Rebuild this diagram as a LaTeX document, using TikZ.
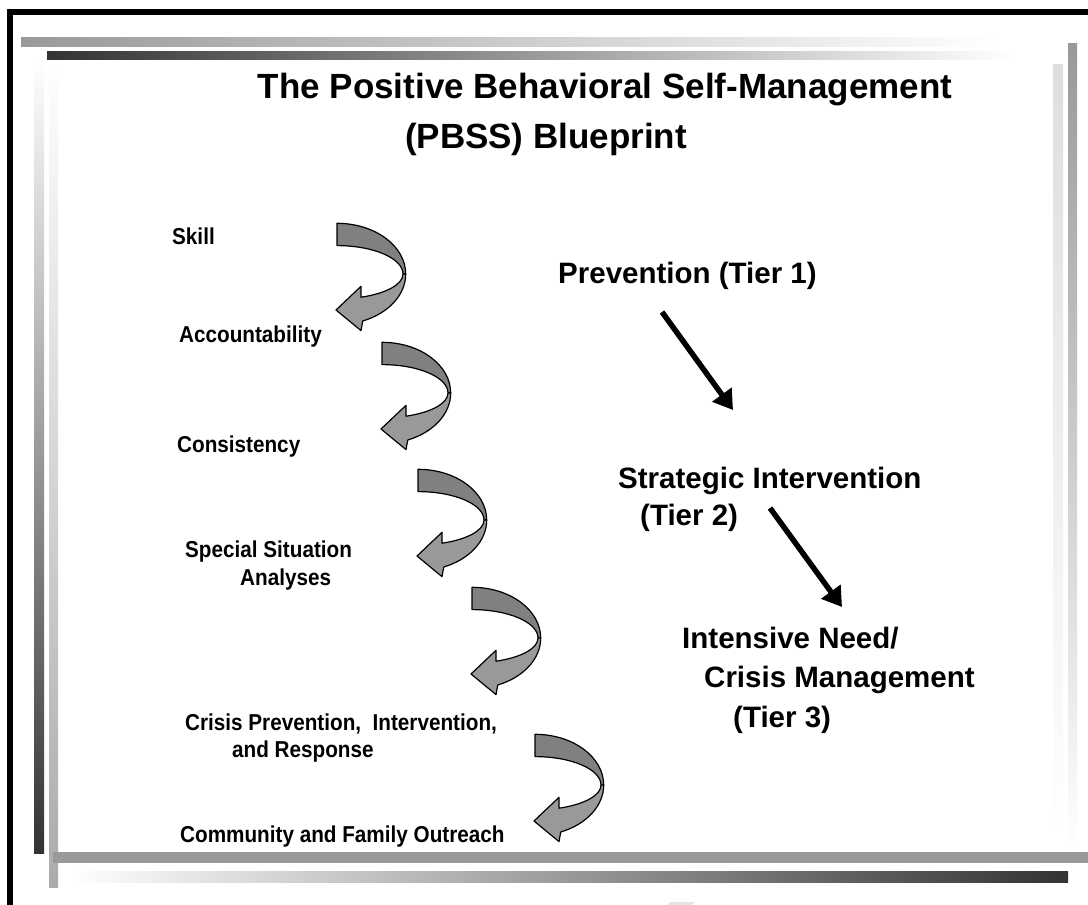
\documentclass[tikz,border=0pt]{standalone}
\usepackage{fontspec}
\setmainfont{Liberation Sans}
\usetikzlibrary{arrows.meta, positioning, calc}

\begin{document}
\begin{tikzpicture}[
    x=1pt, y=1pt,
    titletext/.style={font=\fontsize{35}{42}\selectfont\bfseries, anchor=base, inner sep=0pt},
    steplabel/.style={font=\fontsize{23}{28}\selectfont\bfseries, anchor=base west, inner sep=0pt, xscale=0.9},
    tierlabel/.style={font=\fontsize{29.5}{39}\selectfont\bfseries, anchor=base west, inner sep=0pt},
    tierarrow/.style={-{Triangle[length=19pt, width=23pt]}, line width=5.5pt},
    bandline/.style={draw=black, line width=1.2pt, line join=round},
    bendarrow/.pic={
        % upper band
        \filldraw[bandline, fill=black!50] (0,50.7) arc[start angle=90, end angle=0, x radius=68.7, y radius=50.7]
            -- (66,0) arc[start angle=0, end angle=90, x radius=66, y radius=28.4] -- cycle;
        % lower band with head
        \filldraw[bandline, fill=black!40] (68.7,0) arc[start angle=0, end angle=-68, x radius=68.7, y radius=50.7]
            -- (24,-56.6) -- (-1,-36) -- (24,-12.3) -- (24,-23.2)
            arc[start angle=-68.7, end angle=0, x radius=66, y radius=24.9] -- cycle;
    }
]

\useasboundingbox (0,0) rectangle (1088,-905);
\fill[white] (0,0) rectangle (1088,-905);

% Frame
\fill[black] (7,-9) rectangle (1088,-15);
\fill[black] (7,-9) rectangle (13,-905);

% Bars
\shade[left color=black!40, right color=white] (21,-37) rectangle (997,-46);
\shade[left color=black!80, right color=white] (47,-51) rectangle (1013,-59);
\shade[top color=black!40, bottom color=white] (1068,-43) rectangle (1077,-850);
\shade[top color=black!13, bottom color=white] (1053,-64) rectangle (1063,-840);
\shade[top color=white, bottom color=black!80] (34,-60) rectangle (44,-853);
\shade[top color=white, bottom color=black!33] (49,-60) rectangle (58,-887);
\fill[black!40] (53,-852) rectangle (1088,-863);
\shade[left color=white, right color=black!80] (70,-871) rectangle (1068,-882);
\fill[black!10] (670,-902) -- (695,-902) -- (692,-905) -- (667,-905) -- cycle;

% Title
\node[titletext] (title) at (605,-98) {The Positive Behavioral Self-Management};
\node[titletext] (subtitle) at (546,-148) {(PBSS) Blueprint};

% Steps
\node[steplabel] (skill) at (172,-244) {Skill};
\node[steplabel] (account) at (179,-342) {Accountability};
\node[steplabel] (consist) at (177,-452) {Consistency};
\node[steplabel] (special) at (185,-557) {Special Situation};
\node[steplabel] (analyses) at (240,-585) {Analyses};
\node[steplabel] (crisis) at (185,-730) {Crisis Prevention,\ \ Intervention,};
\node[steplabel] (response) at (232,-757) {and Response};
\node[steplabel] (outreach) at (180,-842) {Community and Family Outreach};

% Curved arrows
\pic (bendA) at (337,-274) {bendarrow};
\pic (bendB) at (382,-393) {bendarrow};
\pic (bendC) at (418,-520) {bendarrow};
\pic (bendD) at (472,-638) {bendarrow};
\pic (bendE) at (535,-785) {bendarrow};

% Tiers
\node[tierlabel] (tier1) at (558,-283) {Prevention (Tier 1)};
\node[tierlabel] (tier2) at (618,-488) {Strategic Intervention};
\node[tierlabel] (tier2b) at (640,-525) {(Tier 2)};
\node[tierlabel] (tier3) at (682,-648) {Intensive Need/};
\node[tierlabel] (tier3b) at (704,-687) {Crisis Management};
\node[tierlabel] (tier3c) at (733,-727) {(Tier 3)};

\coordinate (t1s) at (662,-312);
\coordinate (t1e) at (733,-410);
\coordinate (t2s) at (770,-508);
\coordinate (t2e) at (842,-607);
\draw[tierarrow] (t1s) -- (t1e);
\draw[tierarrow] (t2s) -- (t2e);

\end{tikzpicture}
\end{document}
